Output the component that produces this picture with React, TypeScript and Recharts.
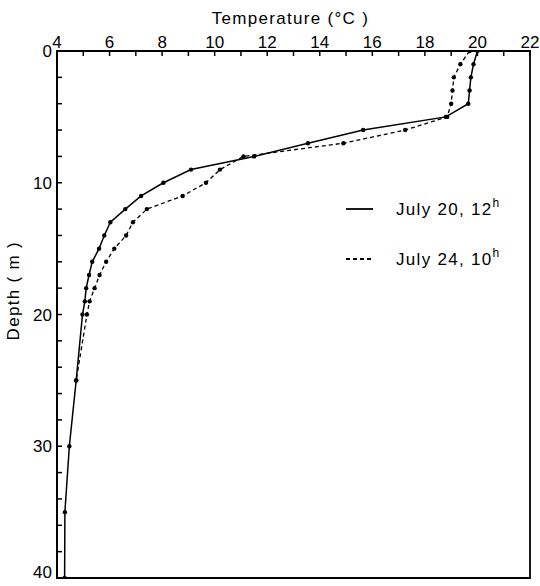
import React from 'react';
import { ScatterChart, Scatter, XAxis, YAxis, ReferenceArea, Legend, Label } from 'recharts';

// Axis ticks
const tempTicks = [4, 5, 6, 7, 8, 9, 10, 11, 12, 13, 14, 15, 16, 17, 18, 19, 20, 21, 22];
const tempLabels = [4, 6, 8, 10, 12, 14, 16, 18, 20, 22];
const depthTicks = [0, 2, 4, 6, 8, 10, 12, 14, 16, 18, 20, 22, 24, 26, 28, 30, 32, 34, 36, 38, 40];
const depthLabels = [0, 10, 20, 30, 40];

// July 20, 12h
const depthJuly20 = [0, 1, 2, 3, 4, 5, 6, 7, 8, 9, 10, 11, 12, 13, 14, 15, 16, 17, 18, 19, 20, 25, 30, 35, 40];
const tempJuly20 = [20.0, 19.85, 19.75, 19.7, 19.65, 18.8, 15.65, 13.55, 11.5, 9.1, 8.05, 7.2, 6.6, 6.03, 5.8, 5.6, 5.34, 5.22, 5.11, 5.06, 4.97, 4.73, 4.47, 4.3, 4.29];

// July 24, 10h
const depthJuly24 = [0, 1, 2, 3, 4, 5, 6, 7, 8, 9, 10, 11, 12, 13, 14, 15, 16, 17, 18, 19, 20, 25];
const tempJuly24 = [19.7, 19.35, 19.1, 19.05, 19.0, 18.85, 17.25, 14.9, 11.1, 10.2, 9.67, 8.78, 7.42, 6.89, 6.63, 6.18, 5.87, 5.62, 5.43, 5.24, 5.14, 4.73];

const seriesNames = ['July 20, 12', 'July 24, 10'];
const seriesSup = ['h', 'h'];
const seriesDash = [undefined, '4 3'];

const FONT = '"Liberation Sans", Arial, sans-serif';

const july20 = depthJuly20.map((d, i) => ({ d, t: tempJuly20[i] }));
const july24 = depthJuly24.map((d, i) => ({ d, t: tempJuly24[i] }));

const TICK_MARGIN = 3;
const TICK_LEN = 5;

const XTick = (props: any) => {
  const { x, y, payload } = props;
  const axisY = y + TICK_MARGIN;
  const show = tempLabels.includes(payload.value);
  return (
    <g>
      <line x1={x} x2={x} y1={axisY} y2={axisY + TICK_LEN} stroke="#000" strokeWidth={1.5} />
      {show && (
        <text x={x} y={y} textAnchor="middle" fontFamily={FONT} fontSize={17} fill="#000">
          {payload.value}
        </text>
      )}
    </g>
  );
};

const YTick = (props: any) => {
  const { x, y, payload } = props;
  const axisX = x + TICK_MARGIN;
  const show = depthLabels.includes(payload.value);
  const shift = payload.value === 40 ? -6 : 0;
  return (
    <g>
      <line x1={axisX} x2={axisX + TICK_LEN} y1={y} y2={y} stroke="#000" strokeWidth={1.5} />
      {show && (
        <text x={x - 2} y={y + shift} dy="0.36em" textAnchor="end" fontFamily={FONT} fontSize={17} fill="#000">
          {payload.value}
        </text>
      )}
    </g>
  );
};

const Dot = (props: any) => <circle cx={props.cx} cy={props.cy} r={2.2} fill="#000" />;

const LegendContent = (props: any) => {
  const payload = props.payload || [];
  return (
    <svg width={190} height={90} style={{ overflow: 'visible' }}>
      {payload.map((p: any, i: number) => (
        <g key={i}>
          <line x1={6} x2={33} y1={19 + i * 50} y2={19 + i * 50} stroke="#000" strokeWidth={1.8} strokeDasharray={seriesDash[i]} />
          <text x={56} y={25 + i * 50} fontFamily={FONT} fontSize={17} letterSpacing={1.3} fill="#000">
            {seriesNames[i]}
            <tspan dy={-8} fontSize={12} fill="#000">{seriesSup[i]}</tspan>
          </text>
        </g>
      ))}
    </svg>
  );
};

export default function App() {
  return (
    <div style={{ position: 'absolute', left: 0, top: 0, width: 540, height: 586, background: '#fff' }}>
      <ScatterChart width={540} height={586} margin={{ top: 21, right: 10, bottom: 8, left: 12 }}>
        <XAxis
          type="number"
          dataKey="t"
          orientation="top"
          domain={[4, 22]}
          ticks={tempTicks}
          interval={0}
          tickSize={0}
          tickMargin={TICK_MARGIN}
          tick={<XTick />}
          axisLine={{ stroke: '#000', strokeWidth: 1.8 }}
          height={30}
          allowDataOverflow
        >
          <Label
            content={(p: any) => {
              const vb = p.viewBox || { x: 57, y: 21, width: 473 };
              return (
                <text x={vb.x + vb.width / 2 - 3} y={vb.y + 3} textAnchor="middle" fontFamily={FONT} fontSize={17} letterSpacing={1.3} fill="#000">
                  Temperature (°C )
                </text>
              );
            }}
          />
        </XAxis>
        <YAxis
          type="number"
          dataKey="d"
          reversed
          domain={[0, 40]}
          ticks={depthTicks}
          interval={0}
          tickSize={0}
          tickMargin={TICK_MARGIN}
          tick={<YTick />}
          axisLine={{ stroke: '#000', strokeWidth: 1.8 }}
          width={45}
          allowDataOverflow
        >
          <Label
            content={(p: any) => {
              const vb = p.viewBox || { x: 12, y: 51, height: 527 };
              const cx = vb.x + 1;
              const cy = vb.y + vb.height * 0.455;
              return (
                <text x={cx} y={cy} dy="0.36em" transform={`rotate(-90 ${cx} ${cy})`} textAnchor="middle" fontFamily={FONT} fontSize={17} letterSpacing={1.3} fill="#000">
                  Depth ( m )
                </text>
              );
            }}
          />
        </YAxis>
        <ReferenceArea x1={4} x2={22} y1={0} y2={40} fill="none" stroke="#000" strokeWidth={1.8} ifOverflow="visible" />
        <Legend
          layout="vertical"
          align="center"
          verticalAlign="middle"
          content={<LegendContent />}
          wrapperStyle={{ position: 'absolute', left: 340, top: 190, width: 190, height: 90 }}
        />
        <Scatter
          name={seriesNames[0]}
          data={july20}
          line={{ stroke: '#000', strokeWidth: 1.5 }}
          lineType="joint"
          shape={<Dot />}
          isAnimationActive={false}
        />
        <Scatter
          name={seriesNames[1]}
          data={july24}
          line={{ stroke: '#000', strokeWidth: 1.3, strokeDasharray: '4 3' }}
          lineType="joint"
          shape={<Dot />}
          isAnimationActive={false}
        />
      </ScatterChart>
    </div>
  );
}
